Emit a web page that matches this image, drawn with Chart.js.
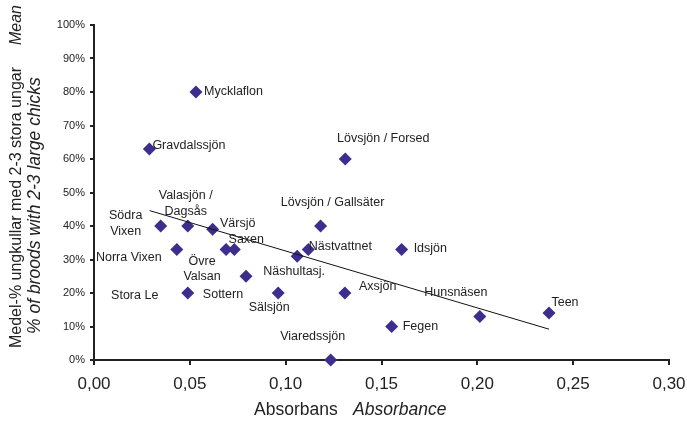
<!DOCTYPE html>
<html><head><meta charset="utf-8">
<script src="https://cdn.jsdelivr.net/npm/chart.js@4.4.0/dist/chart.umd.min.js"></script>
<style>html,body{margin:0;padding:0;background:#fff;}canvas{display:block;}</style>
</head><body>
<canvas id="c" width="687" height="423"></canvas>
<script>
// ---- data ----
const lakes = ['Mycklaflon','Gravdalssjön','Lövsjön / Forsed','Södra\nVixen','Valasjön /\nDagsås','Värsjö',
  'Lövsjön / Gallsäter','Norra Vixen','Övre\nValsan','Saxen','Nästvattnet','Näshultasj.','Idsjön','Sottern',
  'Stora Le','Sälsjön','Axsjön','Fegen','Hunsnäsen','Teen','Viaredssjön'];
const absorbance = [0.0532,0.0289,0.1311,0.0348,0.0489,0.0619,0.1182,0.0432,0.0689,0.0732,0.1118,0.1060,0.1605,0.0793,
  0.0489,0.0961,0.1309,0.1553,0.2013,0.2374,0.1235];
const pctLargeBroods = [80,63,60,40,40,39,40,33,33,33,33,31,33,25,20,20,20,10,13,14,0];
const trendX = [0.029, 0.2374];
const trendY = [44.6, 9.2];
const xTickLabels = ['0,00','0,05','0,10','0,15','0,20','0,25','0,30'];
const yTickLabels = ['0%','10%','20%','30%','40%','50%','60%','70%','80%','90%','100%'];
const xTitleSv = 'Absorbans', xTitleEn = 'Absorbance';
const yTitleSv = 'Medel-% ungkullar med 2-3 stora ungar', yTitleMean = 'Mean', yTitleEn = '% of broods with 2-3 large chicks';

// ---- label placement (pixel offsets from each point) ----
const labelLayout = [
  {dx:8,dy:0,align:'left'},{dx:3,dy:-3,align:'left'},{dx:38,dy:-20,align:'center'},
  {dx:-35,dy:-10,align:'center',lh:16},{dx:-2,dy:-30,align:'center',lh:16},{dx:25,dy:-6,align:'center'},
  {dx:12,dy:-23,align:'center'},{dx:-48,dy:8,align:'center'},{dx:-24,dy:12,align:'center',lh:15},
  {dx:12,dy:-10,align:'center'},{dx:32,dy:-3,align:'center'},{dx:-3,dy:15,align:'center'},
  {dx:12,dy:-1,align:'left'},{dx:-23,dy:18,align:'center'},{dx:-53,dy:3,align:'center'},
  {dx:-9,dy:15,align:'center'},{dx:14,dy:-6,align:'left'},{dx:11,dy:0,align:'left'},
  {dx:-24,dy:-24,align:'center'},{dx:16,dy:-11,align:'center'},{dx:-18,dy:-23,align:'center'}
];

const FONT = '"Liberation Sans", Arial, Helvetica, sans-serif';
const TXT = '#222';

const labelPlugin = {
  id: 'lakeLabels',
  afterDatasetsDraw(chart) {
    const ctx = chart.ctx;
    const meta = chart.getDatasetMeta(1);
    ctx.save();
    ctx.font = '12.5px ' + FONT;
    ctx.fillStyle = TXT;
    ctx.textBaseline = 'middle';
    meta.data.forEach((pt, i) => {
      const L = labelLayout[i];
      ctx.textAlign = L.align;
      lakes[i].split('\n').forEach((line, k) => ctx.fillText(line, pt.x + L.dx, pt.y + L.dy + k * (L.lh || 15)));
    });
    ctx.restore();
  }
};

const titlePlugin = {
  id: 'axisTitles',
  afterDraw(chart) {
    const ctx = chart.ctx;
    ctx.save();
    ctx.fillStyle = TXT;
    ctx.textBaseline = 'middle';
    // x title
    ctx.textAlign = 'left';
    ctx.font = '17.5px ' + FONT;
    ctx.fillText(xTitleSv, 254, 410);
    ctx.font = 'italic 17.5px ' + FONT;
    ctx.fillText(xTitleEn, 353, 410);
    // y title line 1
    ctx.save();
    ctx.translate(17, 0);
    ctx.rotate(-Math.PI / 2);
    ctx.textAlign = 'left';
    ctx.font = '16px ' + FONT;
    ctx.fillText(yTitleSv, -348, 0);
    ctx.textAlign = 'right';
    ctx.font = 'italic 16px ' + FONT;
    ctx.fillText(yTitleMean, -5, 0);
    ctx.restore();
    // y title line 2
    ctx.save();
    ctx.translate(35, 334);
    ctx.rotate(-Math.PI / 2);
    ctx.textAlign = 'left';
    ctx.font = 'italic 17.5px ' + FONT;
    ctx.fillText(yTitleEn, 0, 0);
    ctx.restore();
    ctx.restore();
  }
};

new Chart(document.getElementById('c'), {
  type: 'scatter',
  data: {
    datasets: [
      {
        type: 'line',
        data: trendX.map((x, i) => ({x, y: trendY[i]})),
        borderColor: '#111', borderWidth: 1, pointRadius: 0, fill: false
      },
      {
        data: absorbance.map((x, i) => ({x, y: pctLargeBroods[i]})),
        pointStyle: 'rectRot', pointRadius: 6.5, pointHoverRadius: 6.5,
        backgroundColor: '#3d2e8e', borderColor: '#3d2e8e', borderWidth: 0,
        clip: false
      }
    ]
  },
  options: {
    responsive: false,
    animation: false,
    events: [],
    layout: {padding: {top: 25, right: 18, left: 0, bottom: 0}},
    plugins: {legend: {display: false}, tooltip: {enabled: false}},
    scales: {
      x: {
        type: 'linear', min: 0, max: 0.3,
        afterFit(s) { s.height = 63; s.paddingLeft = 0; s.paddingRight = 0; },
        ticks: {stepSize: 0.05, color: TXT, font: {family: FONT, size: 17}, padding: 9,
          callback: (v, i) => xTickLabels[i]},
        grid: {display: true, drawOnChartArea: false, drawTicks: true, tickLength: 5, tickColor: '#222', lineWidth: 2},
        border: {display: true, color: '#222', width: 2}
      },
      y: {
        type: 'linear', min: 0, max: 100,
        afterFit(s) { s.width = 94; },
        ticks: {stepSize: 10, color: TXT, font: {family: FONT, size: 11}, padding: 5,
          callback: (v, i) => yTickLabels[i]},
        grid: {display: true, drawOnChartArea: false, drawTicks: true, tickLength: 4, tickColor: '#222', lineWidth: 2},
        border: {display: true, color: '#222', width: 2}
      }
    }
  },
  plugins: [labelPlugin, titlePlugin]
});
</script>
</body></html>
